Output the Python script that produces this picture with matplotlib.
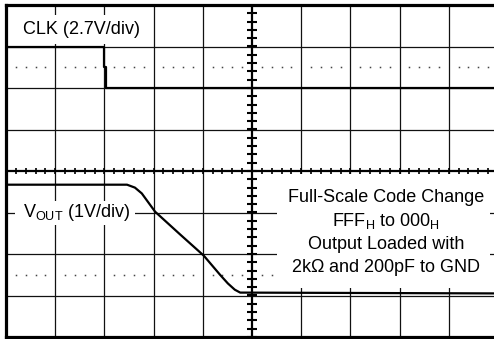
import numpy as np
import matplotlib
matplotlib.use('Agg')
import matplotlib.pyplot as plt
from matplotlib.patches import Rectangle

plt.rcParams['font.family'] = ['Liberation Sans', 'DejaVu Sans']
plt.rcParams['mathtext.fontset'] = 'custom'
plt.rcParams['mathtext.rm'] = 'Liberation Sans'
plt.rcParams['mathtext.default'] = 'rm'

# scope traces, in screen divisions (x: 0..10, y: -4..4 about centre)
clk_t = [0.0, 1.99, 1.99, 2.03, 2.03, 10.0]
clk_v = [3.0, 3.0, 2.5, 2.5, 2.0, 2.0]

vout_t = [0.0, 2.46, 2.62, 2.76, 3.03, 3.54, 4.02, 4.35, 4.51, 4.65, 4.76, 10.0]
vout_v = [-0.33, -0.33, -0.40, -0.54, -0.98, -1.53, -2.04, -2.50, -2.71, -2.86, -2.93, -2.95]

clk_label = 'CLK (2.7V/div)'
vout_label = r'V$_{OUT}$ (1V/div)'
note_lines = ['Full-Scale Code Change',
              r'FFF$_{H}$ to 000$_{H}$',
              'Output Loaded with',
              r'2k$\Omega$ and 200pF to GND']


def main():
    fig = plt.figure(figsize=(4.94, 3.39), dpi=100)
    ax = fig.add_axes([6 / 494, 2 / 339, 492 / 494, 332 / 339])
    ax.set_xlim(0, 10)
    ax.set_ylim(-4, 4)
    ax.set_xticks([])
    ax.set_yticks([])
    for sp in ax.spines.values():
        sp.set_linewidth(2.3)
        sp.set_zorder(10)

    # graticule
    for x in range(1, 10):
        if x != 5:
            ax.axvline(x, color='#111', lw=0.9, zorder=1)
    for y in range(-3, 4):
        if y != 0:
            ax.axhline(y, color='#111', lw=0.9, zorder=1)
    ax.axvline(5, color='black', lw=1.6, zorder=2)
    ax.axhline(0, color='black', lw=1.6, zorder=2)

    # minor ticks on the centre axes
    fine = np.arange(0, 10.01, 0.2)
    ax.vlines(fine, -0.075, 0.075, color='black', lw=1.2, zorder=2)
    fine_y = np.arange(-4, 4.01, 0.2)
    ax.hlines(fine_y, 4.9, 5.1, color='black', lw=1.5, zorder=2)

    # dotted reference lines
    dots = np.array([d for d in np.arange(0.2, 10, 0.2) if abs(d - round(d)) > 0.05])
    for y in (2.5, -2.5):
        ax.plot(dots, np.full_like(dots, y), ls='none', marker='s',
                ms=1.1, mew=0, color='#444', zorder=1)

    # white label boxes
    ax.add_patch(Rectangle((0.02, 3.07), 2.95, 0.70, facecolor='white',
                           edgecolor='none', zorder=3))
    ax.add_patch(Rectangle((0.18, -1.29), 2.44, 0.56, facecolor='white',
                           edgecolor='none', zorder=3))
    ax.add_patch(Rectangle((5.51, -2.83), 4.33, 2.75, facecolor='white',
                           edgecolor='none', zorder=3))

    ax.text(1.54, 3.41, clk_label, fontsize=13, ha='center', va='center', zorder=4)
    ax.text(1.43, -1.0, vout_label, fontsize=13, ha='center', va='center', zorder=4)
    for y, line in zip([-0.64, -1.20, -1.77, -2.33], note_lines):
        ax.text(7.72, y, line, fontsize=13, ha='center', va='center', zorder=4)

    # traces
    ax.plot(clk_t, clk_v, color='black', lw=1.6, zorder=5)
    ax.plot(vout_t, vout_v, color='black', lw=1.6, zorder=5)

    fig.savefig('out.png', dpi=100)


if __name__ == "__main__":
    main()
